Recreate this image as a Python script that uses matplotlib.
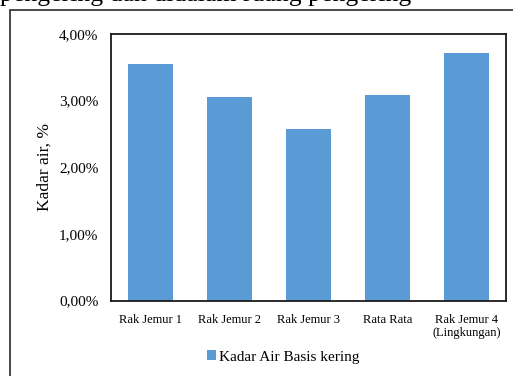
import matplotlib
matplotlib.use("Agg")
import matplotlib.pyplot as plt
from matplotlib.patches import Rectangle
from matplotlib.ticker import FuncFormatter, MultipleLocator

# Kadar air basis kering per rak jemur
categories = ["Rak Jemur 1", "Rak Jemur 2", "Rak Jemur 3", "Rata Rata", "Rak Jemur 4\n(Lingkungan)"]
kadar_air = [3.55, 3.06, 2.58, 3.08, 3.72]  # persen
series_name = "Kadar Air Basis kering"
caption = "pengering dan didalam ruang pengering"

plt.rcParams["font.family"] = ["Liberation Serif", "DejaVu Serif"]

W, H = 513, 376
fig = plt.figure(figsize=(W / 100, H / 100), dpi=100)

# caption line of the surrounding document, cut off at the top edge
fig.text(0.0, 1 - 0.5 / H, caption, fontsize=18.5, ha="left", va="baseline", color="black")

# outer chart frame
fig.patches.append(Rectangle((10 / W, -0.1), (W - 10) / W + 0.1, 1.1 - 10 / H,
                             transform=fig.transFigure, fill=False,
                             edgecolor="#3a3a3a", lw=1.3))

ax = fig.add_axes([111 / W, (H - 300.5) / H, 395 / W, 266.5 / H])
x = range(len(categories))
ax.bar(x, kadar_air, width=0.57, color="#5B9BD5", label=series_name)

ax.set_xlim(-0.5, len(categories) - 0.5)
ax.set_ylim(0, 4)
ax.yaxis.set_major_locator(MultipleLocator(1))
ax.yaxis.set_major_formatter(FuncFormatter(lambda v, _: f"{v:.2f}%".replace(".", ",")))
ax.set_xticks(list(x))
ax.set_xticklabels(categories, fontsize=9, linespacing=1.05)
ax.tick_params(axis="both", length=0)
ax.tick_params(axis="y", labelsize=11, pad=9)
ax.tick_params(axis="x", pad=10)
for s in ax.spines.values():
    s.set_color("#1a1a1a")
    s.set_linewidth(1.3)

fig.text(45 / W, 1 - 167 / H, "Kadar air, %", rotation=90, fontsize=12.5,
         ha="center", va="center")

fig.legend(loc="center", bbox_to_anchor=(283 / W, 1 - 357 / H), frameon=False,
           fontsize=11, handlelength=0.6, handleheight=0.6, handletextpad=0.2)

fig.savefig("out.png", dpi=100)
